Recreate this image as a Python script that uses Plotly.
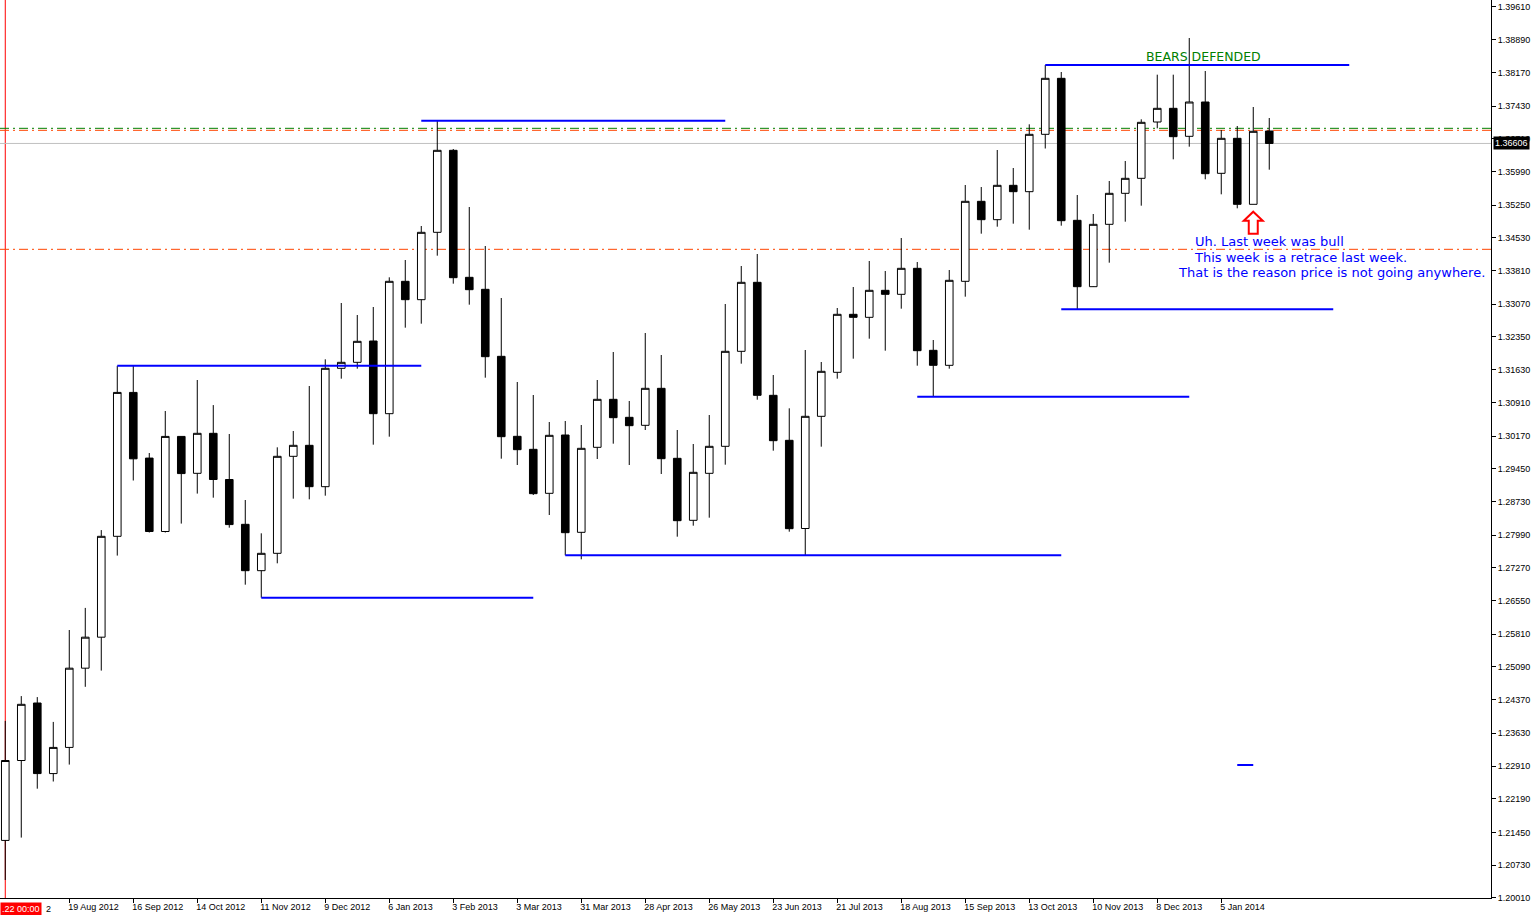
import pandas as pd
import plotly.graph_objects as go

# weekly EURUSD bars (22 Jul 2012 .. 26 Jan 2014)
weeks = pd.date_range("2012-07-22", periods=80, freq="7D")

opens = [
    1.21273, 1.23031, 1.24296, 1.22743, 1.23319, 1.25062, 1.25744, 1.27963,
    1.31129, 1.29684, 1.28069, 1.30161, 1.29349, 1.30229, 1.29213, 1.28227,
    1.27207, 1.27589, 1.29723, 1.29965, 1.29055, 1.31659, 1.31791, 1.32260,
    1.30661, 1.33573, 1.33169, 1.34651, 1.36455, 1.33661, 1.33397, 1.31923,
    1.30163, 1.29877, 1.28909, 1.30192, 1.28051, 1.29921, 1.30977, 1.30581,
    1.30405, 1.31219, 1.29679, 1.28315, 1.29349, 1.29943, 1.32033, 1.33551,
    1.31065, 1.30075, 1.28135, 1.30603, 1.31571, 1.32847, 1.32781, 1.33375,
    1.33287, 1.33859, 1.32055, 1.31725, 1.33573, 1.35333, 1.34929, 1.35685,
    1.35545, 1.36807, 1.38039, 1.34915, 1.33455, 1.34827, 1.35509, 1.35839,
    1.37078, 1.37379, 1.36763, 1.37518, 1.35949, 1.36719, 1.35267, 1.36880,
]
highs = [
    1.23902, 1.24448, 1.24426, 1.23880, 1.25902, 1.26388, 1.28100, 1.31714,
    1.31714, 1.29796, 1.30720, 1.30161, 1.31402, 1.30850, 1.30214, 1.28762,
    1.28029, 1.29921, 1.30280, 1.31270, 1.31857, 1.33096, 1.32832, 1.33008,
    1.33661, 1.34042, 1.34790, 1.37107, 1.36484, 1.35208, 1.34350, 1.33206,
    1.31358, 1.31072, 1.30478, 1.30500, 1.30412, 1.31402, 1.32018, 1.30940,
    1.32436, 1.31952, 1.30302, 1.29994, 1.30632, 1.33074, 1.33910, 1.34174,
    1.31512, 1.30779, 1.32062, 1.31798, 1.32986, 1.33448, 1.34020, 1.33800,
    1.34526, 1.33998, 1.32282, 1.33822, 1.35692, 1.35648, 1.36462, 1.36066,
    1.37027, 1.38332, 1.38178, 1.35472, 1.35054, 1.35780, 1.36220, 1.37137,
    1.38119, 1.38119, 1.38926, 1.38200, 1.36902, 1.36990, 1.37408, 1.37166,
]
lows = [
    1.20402, 1.21335, 1.22411, 1.22569, 1.22941, 1.24652, 1.25009, 1.27539,
    1.29191, 1.28047, 1.28047, 1.28243, 1.28903, 1.28813, 1.28153, 1.26899,
    1.26613, 1.27369, 1.28791, 1.28777, 1.28857, 1.31431, 1.31651, 1.29979,
    1.30155, 1.32553, 1.32641, 1.34137, 1.33521, 1.33059, 1.31453, 1.29671,
    1.29532, 1.28872, 1.28432, 1.27545, 1.27457, 1.29664, 1.30001, 1.29532,
    1.30302, 1.29334, 1.27955, 1.28197, 1.28373, 1.29539, 1.31761, 1.30969,
    1.29847, 1.28065, 1.27541, 1.29935, 1.31431, 1.31871, 1.32311, 1.32047,
    1.32971, 1.31717, 1.31035, 1.31651, 1.33235, 1.34621, 1.34775, 1.34841,
    1.34709, 1.36495, 1.34797, 1.32957, 1.33448, 1.33983, 1.34885, 1.35237,
    1.36939, 1.36257, 1.36535, 1.35817, 1.35487, 1.35179, 1.35267, 1.36029,
]
closes = [
    1.23031, 1.24267, 1.22743, 1.23319, 1.25062, 1.25744, 1.27963, 1.31129,
    1.29668, 1.28069, 1.30161, 1.29343, 1.30229, 1.29213, 1.28221, 1.27207,
    1.27589, 1.29723, 1.29965, 1.29055, 1.31659, 1.31791, 1.32253, 1.30661,
    1.33573, 1.33169, 1.34651, 1.36455, 1.33653, 1.33389, 1.31915, 1.30155,
    1.29869, 1.28901, 1.30185, 1.28043, 1.29899, 1.30977, 1.30573, 1.30397,
    1.31219, 1.29671, 1.28307, 1.29371, 1.29943, 1.32033, 1.33551, 1.31065,
    1.30067, 1.28131, 1.30603, 1.31593, 1.32847, 1.32781, 1.33375, 1.33287,
    1.33859, 1.32047, 1.31725, 1.33595, 1.35333, 1.34929, 1.35685, 1.35545,
    1.36807, 1.38039, 1.34907, 1.33455, 1.34827, 1.35509, 1.35839, 1.37071,
    1.37379, 1.36755, 1.37518, 1.35941, 1.36719, 1.35267, 1.36873, 1.36606,
]

tick_dates = [
    "2012-08-19", "2012-09-16", "2012-10-14", "2012-11-11", "2012-12-09",
    "2013-01-06", "2013-02-03", "2013-03-03", "2013-03-31", "2013-04-28",
    "2013-05-26", "2013-06-23", "2013-07-21", "2013-08-18", "2013-09-15",
    "2013-10-13", "2013-11-10", "2013-12-08", "2014-01-05",
]
tick_labels = [
    "19 Aug 2012", "16 Sep 2012", "14 Oct 2012", "11 Nov 2012", "9 Dec 2012",
    "6 Jan 2013", "3 Feb 2013", "3 Mar 2013", "31 Mar 2013", "28 Apr 2013",
    "26 May 2013", "23 Jun 2013", "21 Jul 2013", "18 Aug 2013", "15 Sep 2013",
    "13 Oct 2013", "10 Nov 2013", "8 Dec 2013", "5 Jan 2014",
]
price_ticks = [
    1.39610, 1.38890, 1.38170, 1.37430, 1.36710, 1.35990, 1.35250, 1.34530,
    1.33810, 1.33070, 1.32350, 1.31630, 1.30910, 1.30170, 1.29450, 1.28730,
    1.27990, 1.27270, 1.26550, 1.25810, 1.25090, 1.24370, 1.23630, 1.22910,
    1.22190, 1.21450, 1.20730, 1.20010,
]

# blue support / resistance segments
level_start = ["2012-09-09", "2012-11-11", "2013-01-20", "2013-03-24",
               "2013-08-25", "2013-10-20", "2013-10-27", "2014-01-12"]
level_end = ["2013-01-20", "2013-03-10", "2013-06-02", "2013-10-27",
             "2013-12-22", "2014-03-02", "2014-02-23", "2014-01-19"]
level_price = [1.31714, 1.26613, 1.37107, 1.27545,
               1.31035, 1.38332, 1.32957, 1.22932]

# dash-dot horizontal lines
hline_price = [1.36939, 1.36895, 1.34277]
hline_color = ["#008000", "#FF4500", "#FF4500"]

bid_price = 1.36606

week = pd.Timedelta(days=7)
x_range = [weeks[0] - 0.33 * week, weeks[0] + 92.86 * week]

fig = go.Figure()
fig.add_trace(
    go.Candlestick(
        x=weeks,
        open=opens,
        high=highs,
        low=lows,
        close=closes,
        increasing=dict(line=dict(color="black", width=1), fillcolor="white"),
        decreasing=dict(line=dict(color="black", width=1), fillcolor="black"),
        whiskerwidth=0,
        showlegend=False,
    )
)

# red vertical line on first bar
fig.add_shape(type="line", xref="x", yref="paper", x0=weeks[0], x1=weeks[0],
              y0=0, y1=1, line=dict(color="red", width=1), layer="below")

for p, c in zip(hline_price, hline_color):
    fig.add_shape(type="line", xref="paper", yref="y", x0=0, x1=1, y0=p, y1=p,
                  line=dict(color=c, width=1, dash="9px,4px,2px,4px"), layer="below")

fig.add_shape(type="line", xref="paper", yref="y", x0=0, x1=1, y0=bid_price,
              y1=bid_price, line=dict(color="#C0C0C0", width=1), layer="below")

for s, e, p in zip(level_start, level_end, level_price):
    fig.add_shape(type="line", xref="x", yref="y", x0=s, x1=e, y0=p, y1=p,
                  line=dict(color="#0000FF", width=2))

# hollow red up arrow under the last bull candle
fig.add_shape(
    type="path", xref="x", yref="y", xsizemode="pixel", ysizemode="pixel",
    xanchor="2014-01-19", yanchor=1.35105,
    path="M0,0 L9.5,-9 L4.5,-9 L4.5,-22 L-4.5,-22 L-4.5,-9 L-9.5,-9 Z",
    line=dict(color="red", width=2), fillcolor="white",
)

fig.add_annotation(xref="paper", yref="paper", x=0.8075, y=0.9376,
                   text="BEARS DEFENDED", showarrow=False, xanchor="center",
                   yanchor="middle",
                   font=dict(family="DejaVu Sans", size=12.5, color="#008000"))

notes = [
    ("Uh. Last week was bull", 0.8001, 0.7316),
    ("This week is a retrace last week.", 0.7995, 0.7138),
    ("That is the reason price is not going anywhere.", 0.7887, 0.6960),
]
for txt, nx, ny in notes:
    fig.add_annotation(xref="paper", yref="paper", x=nx, y=ny, text=txt,
                       showarrow=False, xanchor="left", yanchor="middle",
                       font=dict(family="DejaVu Sans", size=13, color="#0000FF"))

# current price box on the price scale
fig.add_annotation(xref="paper", yref="y", x=1, y=bid_price, xanchor="left",
                   xshift=2, text=f"{bid_price:.5f}", showarrow=False,
                   bgcolor="black", borderpad=1,
                   font=dict(family="Liberation Sans", size=9, color="white"))

# crosshair time box bottom-left
fig.add_annotation(xref="paper", yref="paper", x=0, y=0, xanchor="left",
                   yanchor="top", yshift=-4, text=".22 00:00", showarrow=False,
                   bgcolor="red", borderpad=1,
                   font=dict(family="Liberation Sans", size=9, color="white"))
fig.add_annotation(xref="paper", yref="paper", x=44 / 1491, y=0, xanchor="left",
                   yanchor="top", yshift=-4, text="2", showarrow=False,
                   font=dict(family="Liberation Sans", size=9, color="black"))

fig.update_layout(
    width=1535,
    height=915,
    autosize=False,
    margin=dict(l=0, r=44, t=0, b=17),
    paper_bgcolor="white",
    plot_bgcolor="white",
    showlegend=False,
    hovermode=False,
    dragmode=False,
    boxgap=0.32,
    xaxis=dict(
        type="date",
        range=x_range,
        rangeslider=dict(visible=False),
        showgrid=False,
        zeroline=False,
        showline=True,
        linecolor="black",
        linewidth=1,
        ticks="outside",
        ticklen=4,
        tickcolor="black",
        tickvals=tick_dates,
        ticktext=tick_labels,
        ticklabelposition="outside right",
        ticklabelshift=-2,
        tickfont=dict(family="Liberation Sans", size=9, color="black"),
        automargin=False,
    ),
    yaxis=dict(
        side="right",
        range=[1.20006, 1.39762],
        showgrid=False,
        zeroline=False,
        showline=True,
        linecolor="black",
        linewidth=1,
        ticks="outside",
        ticklen=4,
        tickcolor="black",
        tickvals=price_ticks,
        ticktext=[f"{v:.5f}" for v in price_ticks],
        tickfont=dict(family="Liberation Sans", size=9, color="black"),
        automargin=False,
    ),
)

fig.write_html(
    "out.html",
    config={"displayModeBar": False},
    post_script="document.body.style.margin='0';document.body.style.overflow='hidden';",
)
